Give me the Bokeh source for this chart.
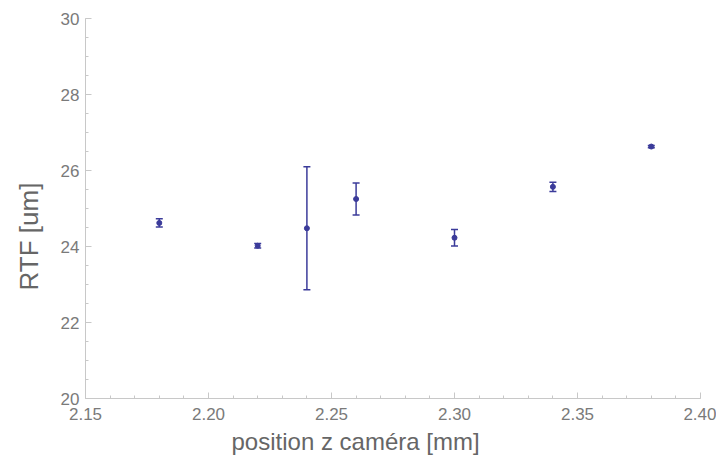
from bokeh.plotting import figure
from bokeh.models import ColumnDataSource, Whisker, TeeHead, FixedTicker, NumeralTickFormatter, Range1d, Title
from bokeh.embed import file_html
from bokeh.resources import INLINE

# data
z_pos = [2.18, 2.22, 2.24, 2.26, 2.30, 2.34, 2.38]
r_tf = [24.62, 24.02, 24.48, 25.25, 24.23, 25.57, 26.63]
r_err = [0.11, 0.06, 1.62, 0.42, 0.22, 0.12, 0.03]
x_ticks = [2.15, 2.20, 2.25, 2.30, 2.35, 2.40]
y_ticks = [20, 22, 24, 26, 28, 30]
x_label = "position z caméra [mm]"
y_label = "RTF [um]"

upper = [v + e for v, e in zip(r_tf, r_err)]
lower = [v - e for v, e in zip(r_tf, r_err)]
src = ColumnDataSource(data=dict(x=z_pos, y=r_tf, upper=upper, lower=lower))

FONT = "Liberation Sans"
COL = "#3b3b9a"
X0, X1 = x_ticks[0], x_ticks[-1]
Y0, Y1 = y_ticks[0], y_ticks[-1]

p = figure(width=716, height=459, output_backend="svg", toolbar_location=None,
           x_range=Range1d(X0, X1), y_range=Range1d(Y0, Y1),
           min_border_left=85, min_border_right=16, min_border_top=18, min_border_bottom=61)
p.outline_line_color = None
p.xgrid.visible = False
p.ygrid.visible = False

w = Whisker(source=src, base="x", upper="upper", lower="lower", line_color=COL, line_width=1.5,
            upper_head=TeeHead(size=7, line_color=COL, line_width=1.5),
            lower_head=TeeHead(size=7, line_color=COL, line_width=1.5))
p.add_layout(w)
p.scatter("x", "y", source=src, size=5, color=COL)

minor_x = [round(X0 + 0.01 * i, 2) for i in range(26)]
minor_y = [Y0 + 0.5 * i for i in range(21)]
p.xaxis.ticker = FixedTicker(ticks=x_ticks, minor_ticks=minor_x)
p.yaxis.ticker = FixedTicker(ticks=y_ticks, minor_ticks=minor_y)
p.xaxis.formatter = NumeralTickFormatter(format="0.00")

for ax in (p.xaxis, p.yaxis):
    ax.axis_line_color = "#c8c8c8"
    ax.major_tick_line_color = "#c8c8c8"
    ax.minor_tick_line_color = "#c8c8c8"
    ax.major_tick_in = 6
    ax.major_tick_out = 0
    ax.minor_tick_in = 3
    ax.minor_tick_out = 0
    ax.major_label_text_font = FONT
    ax.major_label_text_font_size = "17px"
    ax.major_label_text_color = "#7a7a7a"
p.xaxis.major_label_standoff = 9
p.yaxis.major_label_standoff = 6

LAB_COL = "#666666"
xt = Title(text=x_label, align="left", offset=146, standoff=7,
           text_font=FONT, text_font_size="24px", text_font_style="normal", text_color=LAB_COL)
p.add_layout(xt, "below")
yt = Title(text=y_label, align="left", offset=108, standoff=24, vertical_align="top",
           text_font=FONT, text_font_size="26px", text_font_style="normal", text_color=LAB_COL)
p.add_layout(yt, "left")

open("out.html", "w").write(file_html(p, INLINE))
